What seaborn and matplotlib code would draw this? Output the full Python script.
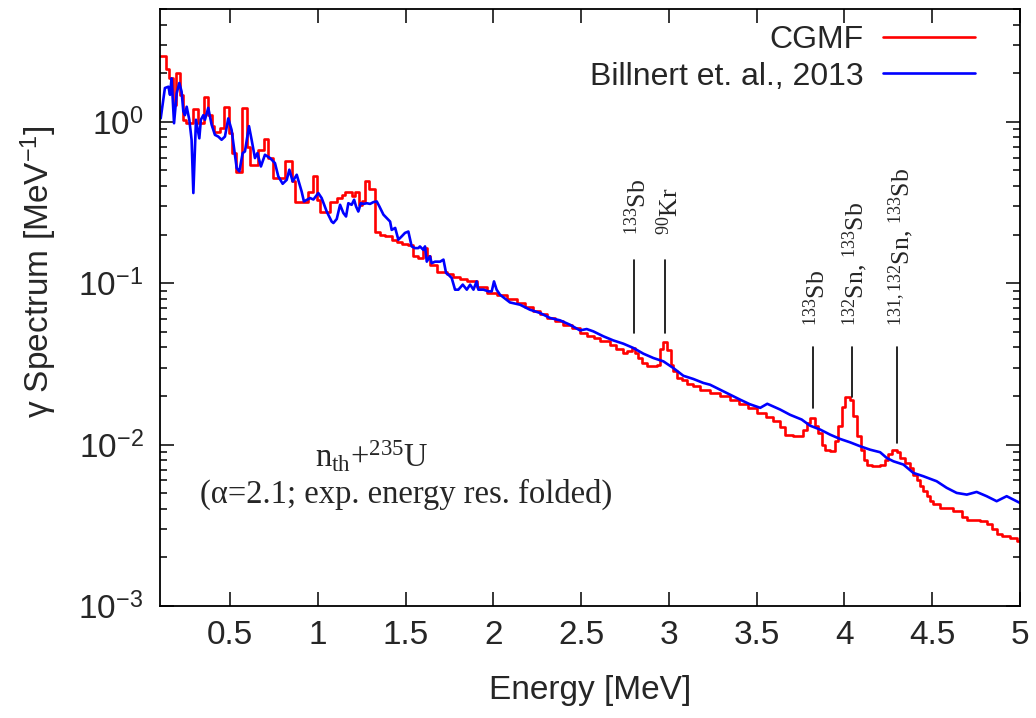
import numpy as np
import pandas as pd
import matplotlib
matplotlib.use("Agg")
import matplotlib.pyplot as plt
import seaborn as sns
from matplotlib.ticker import FixedLocator, FixedFormatter, LogLocator, NullFormatter

# ---------------- data ----------------
# CGMF histogram: left bin edges and bin values (last bin ends at 5.0 MeV)
cgmf_edges = [0.10, 0.134, 0.153, 0.172, 0.191, 0.214, 0.229, 0.248, 0.29, 0.318,
              0.351, 0.375, 0.394, 0.41, 0.442, 0.465, 0.493, 0.509, 0.533, 0.565,
              0.594, 0.613, 0.66, 0.693, 0.717, 0.746, 0.812, 0.85, 0.869, 0.945,
              0.974, 0.993, 1.011, 1.068, 1.107, 1.135, 1.154, 1.192, 1.211, 1.236,
              1.249, 1.268, 1.293, 1.325, 1.354, 1.382, 1.42, 1.449, 1.477, 1.515,
              1.543, 1.572, 1.597, 1.62, 1.638, 1.677, 1.734, 1.771, 1.81, 1.848,
              1.904, 1.962, 2.018, 2.075, 2.132, 2.18, 2.227, 2.265, 2.303, 2.35,
              2.398, 2.445, 2.493, 2.531, 2.57, 2.607, 2.664, 2.70, 2.74, 2.759,
              2.788, 2.807, 2.825, 2.845, 2.873, 2.93, 2.949, 2.968, 2.987, 3.01,
              3.025, 3.044, 3.073, 3.101, 3.139, 3.177, 3.234, 3.291, 3.35, 3.40,
              3.45, 3.50, 3.55, 3.59, 3.63, 3.661, 3.709, 3.766, 3.785, 3.804,
              3.832, 3.851, 3.87, 3.889, 3.918, 3.946, 3.965, 3.984, 4.003, 4.032,
              4.05, 4.073, 4.093, 4.111, 4.13, 4.155, 4.203, 4.231, 4.25, 4.269,
              4.298, 4.317, 4.345, 4.374, 4.392, 4.412, 4.43, 4.449, 4.469, 4.487,
              4.506, 4.544, 4.62, 4.668, 4.697, 4.772, 4.81, 4.839, 4.867, 4.896,
              4.943, 4.981]
cgmf_vals = [2.54, 2.12, 1.86, 1.27, 2.0, 1.47, 1.03, 0.98, 1.2, 0.98,
             1.43, 1.10, 0.94, 0.86, 0.91, 1.24, 0.85, 0.64, 0.49, 1.22,
             0.70, 0.54, 0.67, 0.785, 0.596, 0.448, 0.568, 0.427, 0.318, 0.37,
             0.46, 0.33, 0.276, 0.318, 0.337, 0.353, 0.365, 0.345, 0.37, 0.306,
             0.321, 0.427, 0.383, 0.209, 0.20, 0.197, 0.186, 0.179, 0.176, 0.173,
             0.147, 0.143, 0.165, 0.148, 0.130, 0.118, 0.1145, 0.110, 0.106, 0.1026,
             0.0947, 0.0869, 0.084, 0.080, 0.0754, 0.071, 0.067, 0.064, 0.061, 0.058,
             0.055, 0.053, 0.049, 0.047, 0.046, 0.044, 0.0415, 0.039, 0.037, 0.0378,
             0.0397, 0.037, 0.0344, 0.032, 0.0308, 0.031, 0.039, 0.043, 0.0388, 0.031,
             0.0284, 0.0259, 0.0253, 0.0239, 0.023, 0.0219, 0.0209, 0.0199, 0.0188, 0.0178,
             0.0168, 0.0158, 0.0148, 0.0140, 0.0128, 0.01153, 0.01125, 0.0124, 0.0136, 0.01463,
             0.0130, 0.0118, 0.0100, 0.0093, 0.0091, 0.0105, 0.0130, 0.0171, 0.0197, 0.0188,
             0.0150, 0.01125, 0.0093, 0.00807, 0.00752, 0.00734, 0.00752, 0.00807, 0.0088, 0.0093,
             0.00897, 0.00826, 0.00769, 0.00717, 0.00652, 0.00607, 0.00552, 0.00514, 0.00479, 0.00446,
             0.00431, 0.00405, 0.00386, 0.00357, 0.00343, 0.00335, 0.0032, 0.00298, 0.00281, 0.0027,
             0.00264, 0.00252]

# Billnert et al. 2013 measured spectrum
billnert_E = [0.104, 0.128, 0.148, 0.157, 0.166, 0.18, 0.195, 0.21, 0.223, 0.233,
              0.242, 0.252, 0.267, 0.28, 0.29, 0.305, 0.324, 0.333, 0.347, 0.356,
              0.375, 0.394, 0.413, 0.432, 0.451, 0.47, 0.489, 0.508, 0.537, 0.552,
              0.571, 0.584, 0.607, 0.622, 0.641, 0.655, 0.675, 0.698, 0.727, 0.755,
              0.774, 0.799, 0.822, 0.837, 0.856, 0.879, 0.907, 0.92, 0.955, 0.974,
              1.002, 1.021, 1.05, 1.078, 1.088, 1.107, 1.126, 1.145, 1.16, 1.173,
              1.192, 1.206, 1.217, 1.23, 1.244, 1.259, 1.278, 1.297, 1.316, 1.335,
              1.35, 1.373, 1.392, 1.411, 1.42, 1.44, 1.458, 1.477, 1.496, 1.515,
              1.534, 1.553, 1.572, 1.581, 1.60, 1.61, 1.62, 1.638, 1.648, 1.667,
              1.696, 1.715, 1.73, 1.743, 1.762, 1.781, 1.80, 1.825, 1.848, 1.867,
              1.886, 1.904, 1.914, 1.943, 1.971, 1.99, 2.003, 2.018, 2.037, 2.094,
              2.151, 2.208, 2.265, 2.322, 2.379, 2.436, 2.493, 2.531, 2.569, 2.626,
              2.683, 2.74, 2.797, 2.854, 2.911, 2.968, 3.025, 3.082, 3.139, 3.196,
              3.234, 3.291, 3.348, 3.405, 3.46, 3.52, 3.56, 3.633, 3.69, 3.756,
              3.804, 3.861, 3.918, 3.975, 4.032, 4.089, 4.146, 4.203, 4.241, 4.279,
              4.336, 4.392, 4.449, 4.525, 4.582, 4.639, 4.697, 4.753, 4.81, 4.867,
              4.924, 5.0]
billnert_y = [1.05, 1.62, 1.65, 1.47, 1.86, 0.98, 1.5, 1.74, 1.54, 1.16,
              1.10, 1.24, 1.03, 0.774, 0.362, 1.03, 0.79, 1.03, 1.10, 1.03,
              1.22, 0.96, 0.83, 0.81, 0.774, 0.81, 1.05, 0.89, 0.517, 0.493,
              0.64, 0.655, 0.94, 0.774, 0.596, 0.64, 0.529, 0.625, 0.596, 0.555,
              0.459, 0.413, 0.437, 0.505, 0.427, 0.47, 0.37, 0.321, 0.337, 0.33,
              0.362, 0.337, 0.278, 0.241, 0.236, 0.25, 0.306, 0.272, 0.259, 0.313,
              0.306, 0.329, 0.299, 0.278, 0.313, 0.31, 0.313, 0.31, 0.318, 0.321,
              0.299, 0.266, 0.253, 0.241, 0.214, 0.22, 0.186, 0.195, 0.205, 0.209,
              0.169, 0.165, 0.165, 0.169, 0.161, 0.169, 0.136, 0.147, 0.133, 0.136,
              0.136, 0.14, 0.1156, 0.113, 0.1077, 0.0912, 0.0912, 0.098, 0.0912, 0.098,
              0.0912, 0.1026, 0.0912, 0.0912, 0.089, 0.089, 0.1026, 0.0912, 0.0849, 0.076,
              0.0736, 0.0685, 0.0654, 0.0609, 0.0589, 0.0553, 0.051, 0.052, 0.0503, 0.0469,
              0.0442, 0.0422, 0.0397, 0.0366, 0.0344, 0.0328, 0.0298, 0.0267, 0.0255, 0.0241,
              0.0235, 0.0219, 0.0204, 0.019, 0.0178, 0.0169, 0.0179, 0.0165, 0.0153, 0.0143,
              0.0131, 0.0124, 0.01153, 0.01084, 0.01033, 0.00977, 0.0093, 0.00897, 0.00826, 0.00788,
              0.00752, 0.00668, 0.00637, 0.00593, 0.0054, 0.00502, 0.0049, 0.00509, 0.00479, 0.00446,
              0.00479, 0.00435]

# line identifications
line_E = [2.80, 2.98, 3.82, 4.04, 4.30]
line_top = [0.14, 0.14, 0.040, 0.040, 0.040]
line_bottom = [0.049, 0.049, 0.0169, 0.0198, 0.0103]
line_text_y = [0.20, 0.20, 0.054, 0.054, 0.054]
line_labels = [r'$^{\mathregular{133}}$Sb', r'$^{\mathregular{90}}$Kr', r'$^{\mathregular{133}}$Sb',
               r'$^{\mathregular{132}}$Sn, $^{\mathregular{133}}$Sb',
               r'$^{\mathregular{131,132}}$Sn, $^{\mathregular{133}}$Sb']

x_ticks = [0.5, 1, 1.5, 2, 2.5, 3, 3.5, 4, 4.5, 5]
x_ticklabels = ['0.5', '1', '1.5', '2', '2.5', '3', '3.5', '4', '4.5', '5']
y_ticks = [1e-3, 1e-2, 1e-1, 1e0]
y_ticklabels = [r'10$^{\mathregular{-3}}$', r'10$^{\mathregular{-2}}$',
                r'10$^{\mathregular{-1}}$', r'10$^{\mathregular{0}}$']

# ---------------- style ----------------
sns.set_style("ticks")
plt.rcParams['font.family'] = ['Liberation Sans', 'DejaVu Sans']
plt.rcParams['mathtext.fontset'] = 'custom'
plt.rcParams['mathtext.rm'] = 'Liberation Serif'
plt.rcParams['mathtext.it'] = 'Liberation Serif:italic'
plt.rcParams['mathtext.bf'] = 'Liberation Serif:bold'

fig = plt.figure(figsize=(10.36, 7.18), dpi=100)
ax = fig.add_axes([160 / 1036, 1 - 606 / 718, 860 / 1036, 597 / 718])

red_df = pd.DataFrame({'E': cgmf_edges + [5.0], 'y': cgmf_vals + [cgmf_vals[-1]]})
blue_df = pd.DataFrame({'E': billnert_E, 'y': billnert_y})

sns.lineplot(data=red_df, x='E', y='y', ax=ax, color='#ff0000', lw=1.9,
             drawstyle='steps-post', estimator=None, sort=False, label='CGMF')
sns.lineplot(data=blue_df, x='E', y='y', ax=ax, color='#0000ff', lw=1.9,
             estimator=None, sort=False, label='Billnert et. al., 2013')

ax.set_yscale('log')
ax.set_xlim(0.1, 5.0)
ax.set_ylim(1e-3, 5.0)

ax.xaxis.set_major_locator(FixedLocator(x_ticks))
ax.xaxis.set_major_formatter(FixedFormatter(x_ticklabels))
ax.yaxis.set_major_locator(FixedLocator(y_ticks))
ax.yaxis.set_major_formatter(FixedFormatter(y_ticklabels))
ax.yaxis.set_minor_locator(LogLocator(base=10, subs=np.arange(2, 10)))
ax.yaxis.set_minor_formatter(NullFormatter())

ax.tick_params(which='both', direction='in', top=True, right=True, color='black', width=1.1)
ax.tick_params(which='major', length=10)
ax.tick_params(which='minor', length=5)
ax.tick_params(axis='x', which='major', labelsize=24, pad=10)
ax.tick_params(axis='y', which='major', labelsize=24, pad=12)
for s in ax.spines.values():
    s.set_color('black')
    s.set_linewidth(1.3)

ax.set_xlabel('Energy [MeV]', fontsize=24)
ax.set_ylabel(r'γ Spectrum [MeV$^{\mathregular{-1}}$]', fontsize=24)
ax.xaxis.set_label_coords(0.5, -0.115)
ax.yaxis.set_label_coords(-0.118, 0.56)

for E, yt, yb, ty, lab in zip(line_E, line_top, line_bottom, line_text_y, line_labels):
    ax.plot([E, E], [yb, yt], color='black', lw=1.2)
    ax.annotate(lab, xy=(E, ty), xytext=(3, 0), textcoords='offset points',
                rotation=90, ha='center', va='bottom', fontsize=18.5,
                family='Liberation Serif')

ax.text(1.308, 0.0084, r'n$_{\mathregular{th}}$+$^{\mathregular{235}}$U', ha='center', va='center',
        fontsize=23.5, family='Liberation Serif')
ax.text(1.50, 0.0049, '(α=2.1; exp. energy res. folded)', ha='center', va='center',
        fontsize=23.5, family='Liberation Serif')

leg = ax.legend(loc='upper right', bbox_to_anchor=(0.948, 0.973), frameon=False,
                markerfirst=False, handlelength=2.9, handletextpad=0.6,
                labelspacing=0.2, borderaxespad=0, borderpad=0, fontsize=23)

fig.savefig('out.png', dpi=100)
